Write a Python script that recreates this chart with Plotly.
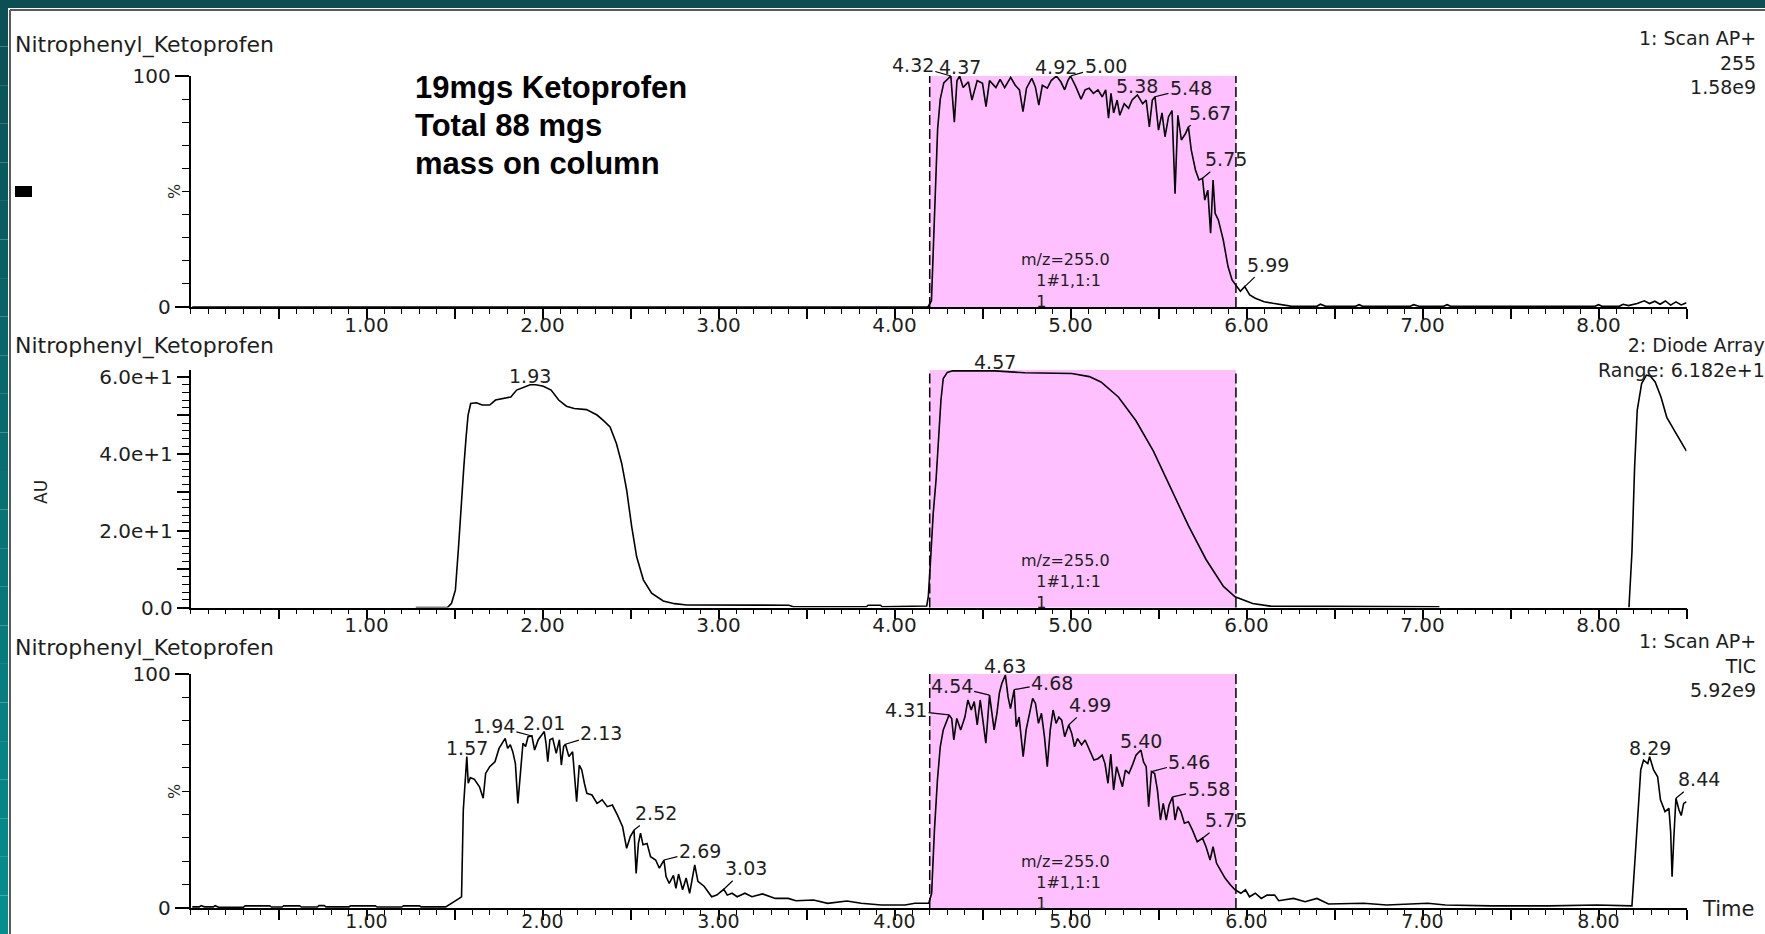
import plotly.graph_objects as go

W, H = 1765, 934
FONT = "DejaVu Sans"
BOLD_FONT = "Liberation Sans"
INK = "#1e1e1e"
NB = "\u00a0"

# ---------------------------------------------------------------- data
# Integration window shared by all three channels (min)
window_start = 4.20
window_end = 5.94

# Channel 1: Scan AP+, m/z 255 (% of 1.58e9)
ms255_time = [
    0.01, 4.19, 4.21, 4.228, 4.245, 4.26, 4.28, 4.32, 4.34, 4.355, 4.37, 4.39, 4.42,
    4.44, 4.47, 4.50, 4.52, 4.54, 4.576, 4.60, 4.626, 4.66, 4.686, 4.71, 4.73, 4.75,
    4.78, 4.80, 4.82, 4.84, 4.868, 4.89, 4.92, 4.945, 4.967, 4.985, 5.00, 5.03, 5.06,
    5.083, 5.106, 5.13, 5.156, 5.18, 5.20, 5.216, 5.23, 5.245, 5.265, 5.28, 5.305,
    5.33, 5.35, 5.38, 5.395, 5.41, 5.43, 5.448, 5.465, 5.48, 5.50, 5.52, 5.537,
    5.557, 5.577, 5.594, 5.61, 5.63, 5.653, 5.67, 5.686, 5.71, 5.73, 5.75, 5.763,
    5.78, 5.796, 5.81, 5.822, 5.84, 5.868, 5.895, 5.918, 5.94, 5.965, 5.99, 6.018,
    6.05, 6.10, 6.15, 6.20, 6.25, 6.40, 6.42, 6.45, 6.62, 6.64, 6.66, 6.93, 6.95,
    6.98, 7.12, 7.14, 7.16, 7.98, 8.00, 8.02, 8.12, 8.14, 8.17, 8.22, 8.26, 8.29,
    8.32, 8.35, 8.38, 8.41, 8.44, 8.47, 8.50,
]
ms255_pct = [
    0, 0, 2.7, 40, 77, 90, 97, 100, 80, 98, 100, 95, 97.5,
    89.6, 98, 96.8, 86.7, 98, 95, 98.5, 95, 99.4, 96, 94, 84.6, 94.7,
    99, 95.4, 87.4, 96, 94.7, 98, 100, 97.5, 94, 98, 100, 95.4, 90,
    94, 94.7, 92.5, 94, 91, 94, 81.7, 92.5, 84, 89.6, 83, 88,
    86, 89.6, 91.8, 90, 88, 89.6, 78, 89.6, 91, 76.6, 84, 73.7,
    82.4, 85, 49, 83, 72.3, 75, 78, 68, 59.3, 55, 55.7, 46.3,
    50.6, 31.9, 55, 40.5, 37.7, 29, 17.5, 11.7, 9.5, 6.8, 8.8, 5.2,
    3.8, 2.3, 1.6, 0.9, 0.4, 0.3, 1.2, 0.3, 0.3, 1.0, 0.3, 0.3, 1.0,
    0.3, 0.3, 1.0, 0.3, 0.3, 1.0, 0.3, 0.4, 1.2, 0.6, 1.5, 2.7, 1.5,
    2.5, 1.2, 2.6, 0.8, 2.2, 0.9, 1.8,
]
ms255_peaks = [4.32, 4.37, 4.92, 5.00, 5.38, 5.48, 5.67, 5.75, 5.99]

# Channel 2: diode array (AU), recorded in two segments
dad_time_a = [
    1.28, 1.46, 1.483, 1.505, 1.523, 1.538, 1.553, 1.566, 1.577, 1.592, 1.625, 1.657,
    1.70, 1.733, 1.788, 1.82, 1.853, 1.93, 1.962, 2.005, 2.049, 2.092, 2.136, 2.18,
    2.25, 2.31, 2.35, 2.384, 2.42, 2.45, 2.478, 2.507, 2.535, 2.573, 2.62, 2.686,
    2.75, 2.82, 3.40, 3.425, 3.84, 3.85, 3.92, 3.93, 4.183, 4.192, 4.206, 4.22,
    4.236, 4.249, 4.264, 4.277, 4.30, 4.33, 4.57, 4.74, 5.007, 5.107, 5.173, 5.272,
    5.372, 5.471, 5.57, 5.67, 5.77, 5.869, 5.935, 6.035, 6.134, 7.096,
]
dad_au_a = [
    0, 0, 1.1, 4.5, 15.8, 27.1, 36.6, 44.4, 50, 53.1, 53.3, 52.7,
    52.7, 54, 54.4, 54.8, 56.6, 58, 58, 57.6, 56.6, 54, 52.4, 51.8,
    51.5, 50.1, 48.5, 47, 42.7, 37.5, 30.6, 21, 13.2, 7.2, 3.7, 1.7,
    1.0, 0.65, 0.6, 0.2, 0.2, 0.6, 0.6, 0.2, 0.4, 2.8, 13.2, 24.5,
    33.2, 44.4, 54, 59.6, 61.2, 61.6, 61.6, 61.1, 60.9, 60.1, 58.7, 54.8,
    48.6, 40.7, 31.0, 21.3, 12.5, 5.5, 2.8, 1.06, 0.35, 0.2,
]
dad_time_b = [8.173, 8.19, 8.205, 8.22, 8.245, 8.272, 8.295, 8.322, 8.355, 8.388, 8.438, 8.50]
dad_au_b = [0, 14.3, 36.3, 51.3, 58.3, 60.5, 60.2, 58.7, 54.8, 49.5, 45.5, 40.7]
dad_peaks = [1.93, 4.57]
dad_full_scale = 61.82

# Channel 3: Scan AP+ TIC (% of 5.92e9)
tic_time = [
    0.01, 0.05, 0.06, 0.08, 0.13, 0.14, 0.16, 0.30, 0.31, 0.45, 0.46, 0.52, 0.53,
    0.62, 0.63, 0.72, 0.73, 0.76, 0.77, 0.90, 0.91, 1.05, 1.06, 1.20, 1.21, 1.30,
    1.31, 1.45, 1.527, 1.54, 1.55, 1.57, 1.578, 1.59, 1.613, 1.642, 1.663, 1.677,
    1.70, 1.73, 1.753, 1.773, 1.788, 1.802, 1.817, 1.831, 1.846, 1.86, 1.875, 1.889,
    1.904, 1.918, 1.94, 1.955, 1.976, 2.01, 2.02, 2.03, 2.042, 2.058, 2.078, 2.096,
    2.107, 2.12, 2.13, 2.15, 2.171, 2.194, 2.209, 2.223, 2.238, 2.252, 2.281, 2.31,
    2.339, 2.368, 2.397, 2.426, 2.455, 2.478, 2.499, 2.52, 2.532, 2.545, 2.557,
    2.571, 2.594, 2.614, 2.643, 2.664, 2.69, 2.702, 2.72, 2.744, 2.758, 2.773,
    2.796, 2.816, 2.836, 2.854, 2.865, 2.883, 2.918, 2.961, 2.99, 3.03, 3.05,
    3.077, 3.106, 3.15, 3.19, 3.25, 3.323, 3.396, 3.44, 3.54, 3.62, 3.73, 3.81,
    3.925, 4.06, 4.116, 4.195, 4.211, 4.227, 4.244, 4.26, 4.277, 4.31, 4.325,
    4.337, 4.354, 4.376, 4.40, 4.417, 4.436, 4.453, 4.47, 4.487, 4.503, 4.519,
    4.54, 4.566, 4.582, 4.596, 4.61, 4.63, 4.645, 4.659, 4.68, 4.692, 4.708,
    4.731, 4.748, 4.768, 4.785, 4.801, 4.818, 4.835, 4.852, 4.868, 4.885, 4.901,
    4.918, 4.934, 4.95, 4.967, 4.99, 5.007, 5.023, 5.04, 5.063, 5.083, 5.107,
    5.133, 5.156, 5.18, 5.196, 5.213, 5.229, 5.245, 5.262, 5.278, 5.295, 5.312,
    5.332, 5.355, 5.372, 5.40, 5.415, 5.43, 5.444, 5.46, 5.478, 5.494, 5.511,
    5.527, 5.544, 5.56, 5.58, 5.594, 5.61, 5.627, 5.647, 5.67, 5.693, 5.72, 5.75,
    5.77, 5.793, 5.81, 5.83, 5.852, 5.878, 5.908, 5.935, 5.968, 5.994, 6.017,
    6.05, 6.084, 6.117, 6.16, 6.183, 6.267, 6.333, 6.40, 6.466, 6.665, 6.797,
    7.03, 7.13, 7.39, 7.72, 7.99, 8.19, 8.206, 8.223, 8.24, 8.256, 8.28, 8.29,
    8.313, 8.336, 8.352, 8.378, 8.40, 8.41, 8.418, 8.428, 8.44, 8.457, 8.47,
    8.484, 8.50,
]
tic_pct = [
    0.5, 0.5, 1.0, 0.5, 0.5, 1.0, 0.3, 0.3, 0.9, 0.9, 0.4, 0.4, 0.9,
    0.9, 0.4, 0.4, 1.0, 1.0, 0.5, 0.5, 0.9, 0.9, 0.4, 0.4, 0.9, 0.9,
    0.5, 0.5, 4.1, 4.8, 41.9, 64.7, 53.3, 55.7, 55, 51.8, 46.9, 57.5,
    60.4, 62.5, 68.2, 70.4, 72.5, 68.2, 69.8, 66.8, 61.7, 44.7, 57.5, 70.4,
    69, 73.2, 73.5, 67.5, 71.9, 75.4, 70.4, 62.5, 71.9, 72.5, 66.1, 71.9,
    61.1, 69, 70, 64.7, 66.8, 45.4, 61.1, 59, 53.3, 49, 48.3, 44.7,
    46.2, 43.3, 44, 39.7, 34.7, 25.5, 30.5, 33.3, 14.8, 27.6, 32,
    27, 27.6, 21.9, 20.5, 17, 20.5, 13.4, 10.5, 13.9, 8.4, 14.5,
    7.8, 12.8, 6.3, 13.9, 18.4, 11.4, 9.3, 4.8, 5.5, 8.0, 5.5,
    6.3, 4.8, 6.3, 4.8, 6.0, 4.1, 4.1, 3.1, 3.4, 2.0, 3.0, 2.0,
    1.3, 1.3, 2.0, 2.0, 6.3, 33.3, 54.7, 68.9, 76.1, 82.5, 81,
    71.8, 81, 76.1, 81.6, 88.9, 84.6, 88.2, 78.2, 88.9, 79.8, 70.4,
    91, 76.1, 83.2, 91.9, 96, 99.6, 90.3, 85.2, 93.3, 77.5, 81.6,
    64.7, 76.1, 83.2, 89.6, 87.4, 78.9, 83.2, 73.2, 60.4, 76.1, 84.6,
    78.9, 81.6, 80.3, 73.2, 78.2, 74.6, 68.9, 72.4, 69.7, 71.8, 67.5,
    63.2, 63.8, 65.3, 61.7, 53.3, 65.8, 50.4, 60.4, 56.1, 51.8, 58.9,
    57.5, 61.7, 65.3, 67.5, 62.4, 60.4, 43.3, 58.3, 57.5, 50.4, 37.6,
    44.7, 37.6, 44, 47.5, 37.6, 43.3, 41.2, 36.2, 36.9, 33.3, 28.3, 29.8,
    26.2, 20.5, 26.2, 19.1, 16.2, 12.8, 9.9, 7.8, 6.3, 7.8, 4.8,
    6.3, 4.1, 5.5, 5.5, 3.1, 4.1, 2.7, 4.1, 1.7, 2.0, 1.3,
    2.0, 1.3, 0.9, 0.9, 1.3, 0.9, 19.1, 39, 59, 63.2, 61.7, 64.7,
    59, 56.1, 46.2, 41.2, 42.6, 32.6, 13.4, 30, 46.9, 42, 39.5,
    44.7, 45.4,
]
tic_peaks = [1.57, 1.94, 2.01, 2.13, 2.52, 2.69, 3.03, 4.31, 4.54, 4.63, 4.68,
             4.99, 5.40, 5.46, 5.58, 5.75, 8.29, 8.44]

# Time axis ticks
x_range = [0.0, 8.5]
x_major = [0.5 * k for k in range(1, 18)]
x_text = [f"{v:.2f}" if v == int(v) else "" for v in x_major]

# ---------------------------------------------------------------- layout helpers
def px(x):
    return x / W


def py(y):
    return 1 - y / H


X_DOMAIN = [px(190.5), px(1686.5)]

# label offsets (pixels from the peak to the text centre); absent = text straight above
ms255_offsets = {4.32: (-38, -11), 5.00: (35, -10), 5.48: (36, -9),
                 5.67: (22, -14), 5.75: (23, -19), 5.99: (23, -22)}
dad_offsets = {}
tic_offsets = {1.94: (-38, -10), 2.13: (36, -11), 2.52: (22, -17), 2.69: (36, -9),
               3.03: (22, -21), 4.31: (-43, -5), 4.54: (-38, -9), 4.68: (38, -7),
               4.99: (21, -20), 5.46: (38, -10), 5.58: (36, -8), 5.75: (23, -18),
               8.44: (23, -19)}


def peak_labels(times, values, peaks, offsets, n):
    lookup = dict(zip(times, values))
    out = []
    for t in peaks:
        ann = dict(x=t, y=lookup[t], xref=f"x{n}", yref=f"y{n}", text=f"{t:.2f}",
                   font=dict(family=FONT, size=19, color=INK))
        off = offsets.get(t)
        if off is None:
            ann.update(showarrow=False, xanchor="center", yanchor="bottom", yshift=-4)
        else:
            ann.update(showarrow=True, arrowhead=0, arrowwidth=1.2, arrowcolor="black",
                       ax=off[0], ay=off[1], standoff=0)
        out.append(ann)
    return out


def text(x, y, s, size=21, anchor="left", family=FONT, color=INK, angle=0, align="left"):
    return dict(x=px(x), y=py(y), xref="paper", yref="paper", text=s, showarrow=False,
                xanchor=anchor, yanchor="middle", textangle=angle, align=align,
                font=dict(family=family, size=size, color=color))


fig = go.Figure()

line_style = dict(color="black", width=1.6)
fig.add_trace(go.Scatter(x=ms255_time, y=ms255_pct, mode="lines", line=line_style,
                         xaxis="x", yaxis="y", hoverinfo="skip"))
fig.add_trace(go.Scatter(x=dad_time_a + [None] + dad_time_b,
                         y=dad_au_a + [None] + dad_au_b, mode="lines", line=line_style,
                         connectgaps=False, xaxis="x2", yaxis="y2", hoverinfo="skip"))
fig.add_trace(go.Scatter(x=tic_time, y=tic_pct, mode="lines", line=line_style,
                         xaxis="x3", yaxis="y3", hoverinfo="skip"))

# panel geometry: (bottom px, top px, time-label pull-in px)
panels = {1: (307, 76, -11), 2: (607.5, 370, -11), 3: (908, 674, -15)}

tick_font = dict(family=FONT, size=20, color=INK)
axis_common = dict(showline=True, linecolor="black", linewidth=1.5, ticks="outside",
                   tickcolor="black", tickwidth=1.5, showgrid=False, zeroline=False,
                   tickfont=tick_font, fixedrange=True, automargin=False)

layout = dict(width=W, height=H, autosize=False,
              margin=dict(l=0, r=0, t=0, b=0, pad=0, autoexpand=False),
              paper_bgcolor="white", plot_bgcolor="white", showlegend=False)

for n, (bot, top, standoff) in panels.items():
    suffix = "" if n == 1 else str(n)
    layout["xaxis" + suffix] = dict(
        axis_common, domain=X_DOMAIN, anchor="y" + suffix, range=x_range,
        tickmode="array", tickvals=x_major, ticktext=x_text, ticklen=10,
        ticklabelstandoff=standoff,
        tickfont=dict(family=FONT, size=20 if n < 3 else 19, color=INK),
        minor=dict(tickmode="linear", tick0=0, dtick=0.1, ticks="outside",
                   ticklen=5, tickwidth=1.2, tickcolor="black"))
    yax = dict(axis_common, domain=[py(bot), py(top)], anchor="x" + suffix, ticklen=14)
    if n == 2:
        yax.update(range=[0, dad_full_scale], tickmode="array",
                   tickvals=[0, 10, 20, 30, 40, 50, 60],
                   ticktext=["0.0", "", "2.0e+1", "", "4.0e+1", "", "6.0e+1"], ticklen=12,
                   minor=dict(tickmode="linear", tick0=0, dtick=2, ticks="outside",
                              ticklen=7, tickwidth=1.2, tickcolor="black"))
    else:
        yax.update(range=[0, 100], tickmode="array", tickvals=[0, 100],
                   ticktext=["0", "100"],
                   minor=dict(tickmode="linear", tick0=0, dtick=10, ticks="outside",
                              ticklen=7, tickwidth=1.2, tickcolor="black"))
    layout["yaxis" + suffix] = yax

shapes = []
# integration window: pink band with dashed edges on every channel
for n in panels:
    xr, yr = ("x" if n == 1 else f"x{n}"), ("y domain" if n == 1 else f"y{n} domain")
    shapes.append(dict(type="rect", xref=xr, yref=yr, x0=window_start, x1=window_end,
                       y0=0, y1=1, fillcolor="#FFC0FF", line=dict(width=0), layer="below"))
    for xv in (window_start, window_end):
        shapes.append(dict(type="line", xref=xr, yref=yr, x0=xv, x1=xv, y0=0, y1=1,
                           line=dict(color="black", width=1.5, dash="10px,4px"),
                           layer="above"))

# slide frame: dark teal band on top, teal gradient down the left edge
shapes.append(dict(type="rect", xref="paper", yref="paper", x0=0, x1=1, y0=py(8), y1=1,
                   fillcolor="#0b4e54", line=dict(width=0), layer="above"))
steps = 24
for i in range(steps):
    f = i / (steps - 1)
    r, g, b = int(11 - 6 * f), int(80 + 62 * f), int(86 + 56 * f)
    shapes.append(dict(type="rect", xref="paper", yref="paper", x0=0, x1=px(8),
                       y0=py(8 + (H - 8) * (i + 1) / steps), y1=py(8 + (H - 8) * i / steps),
                       fillcolor=f"rgb({r},{g},{b})", line=dict(width=0), layer="above"))
shapes.append(dict(type="line", xref="paper", yref="paper", x0=px(10), x1=1,
                   y0=py(10), y1=py(10), line=dict(color="#5a5a5a", width=2), layer="above"))
shapes.append(dict(type="line", xref="paper", yref="paper", x0=px(10), x1=px(10),
                   y0=0, y1=py(10), line=dict(color="#5a5a5a", width=2), layer="above"))
# small black marker at the left edge of the first channel
shapes.append(dict(type="rect", xref="paper", yref="paper", x0=px(15), x1=px(32),
                   y0=py(197), y1=py(186), fillcolor="black", line=dict(width=0)))
layout["shapes"] = shapes

ann = []
ann += peak_labels(ms255_time, ms255_pct, ms255_peaks, ms255_offsets, "")
ann += peak_labels(dad_time_a, dad_au_a, dad_peaks, dad_offsets, "2")
ann += peak_labels(tic_time, tic_pct, tic_peaks, tic_offsets, "3")

for title_y in (45, 346, 648):
    ann.append(text(13, title_y, "Nitrophenyl_Ketoprofen", size=22))

ann += [
    text(1758, 62, "1: Scan AP+<br>255<br>1.58e9", size=19, anchor="right", align="right"),
    text(1767, 357, "2: Diode Array<br>Range: 6.182e+1", size=19, anchor="right",
         align="right"),
    text(1758, 665, "1: Scan AP+<br>TIC<br>5.92e9", size=19, anchor="right", align="right"),
    text(1700, 909, "Time", anchor="left"),
    text(174, 192, "%", size=16, anchor="center", angle=-90),
    text(174, 792, "%", size=16, anchor="center", angle=-90),
    text(41, 492, "AU", size=17, anchor="center", angle=-90),
]
mz_block = f"m/z=255.0<br>{NB * 3}1#1,1:1<br>{NB * 3}1"
for centre in (280, 581, 882):
    ann.append(text(1019, centre, mz_block, size=16, anchor="left"))
for y, line in ((87, "19mgs Ketoprofen"), (125, "Total 88 mgs"), (163, "mass on column")):
    ann.append(text(413, y, f"<b>{line}</b>", size=31, family=BOLD_FONT, color="black"))

layout["annotations"] = ann
fig.update_layout(**layout)

page_reset = ("document.body.style.margin='0';"
              "document.body.style.overflow='hidden';"
              "document.documentElement.style.overflow='hidden';")
fig.write_html("out.html", config={"displayModeBar": False}, post_script=page_reset)
